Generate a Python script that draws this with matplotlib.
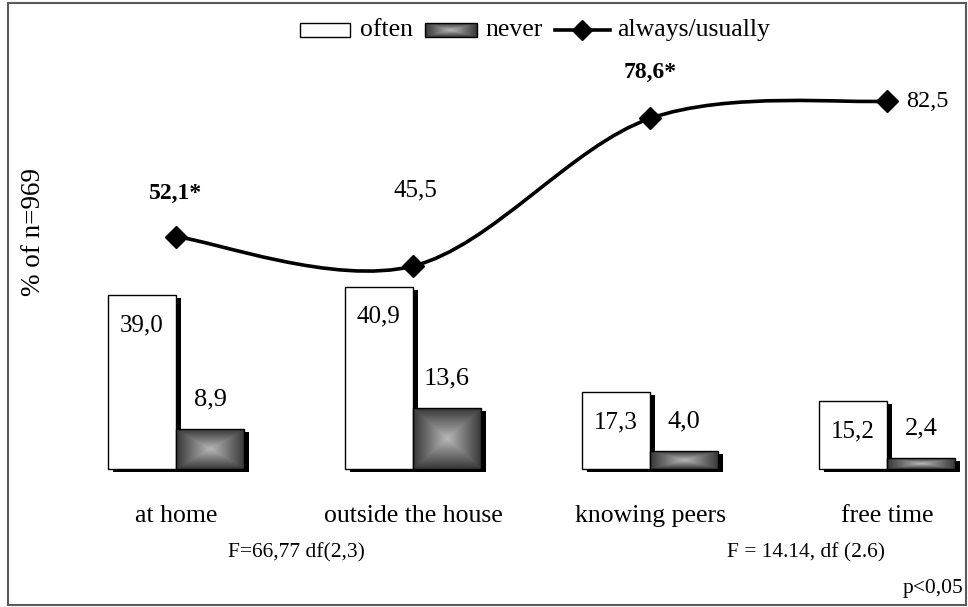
import numpy as np
import matplotlib
matplotlib.use("Agg")
import matplotlib.pyplot as plt
from matplotlib.patches import Rectangle
from matplotlib.path import Path
from matplotlib.patches import PathPatch
from matplotlib.lines import Line2D

# ---------------- data ----------------
categories = ["at home", "outside the house", "knowing peers", "free time"]
often = [39.0, 40.9, 17.3, 15.2]
never = [8.9, 13.6, 4.0, 2.4]
always_usually = [52.1, 45.5, 78.6, 82.5]
often_labels = ["39,0", "40,9", "17,3", "15,2"]
never_labels = ["8,9", "13,6", "4,0", "2,4"]
always_labels = ["52,1*", "45,5", "78,6*", "82,5"]
stats_texts = ["F=66,77 df(2,3)", "F = 14.14, df (2.6)"]
legend_labels = ["often", "never", "always/usually"]
ylabel = "% of n=969"
pnote = "p<0,05"

FONT = "Liberation Serif"
W, H = 968, 607
fig = plt.figure(figsize=(W / 100, H / 100), dpi=100)
fig.patch.set_facecolor("white")

# pixel geometry of the plotting frame
x0px, dxpx = 176.0, 237.0          # first category centre, spacing (px)
base_px, ppu = 469.0, 4.46         # baseline from top (px), px per unit
ax = fig.add_axes([0, 0, 1, 1])
ax.set_xlim(-x0px / dxpx, (W - x0px) / dxpx)
ax.set_ylim(-(H - base_px) / ppu, base_px / ppu)
ax.axis("off")

bw = 0.288
sdx = 5 / dxpx
sdy = 3 / ppu
xs = np.arange(len(categories))

# gradient image for "never" bars (rectangular, light centre)
n = 60
u = np.linspace(-1, 1, n)
UU, VV = np.meshgrid(u, u)
grad = 0.72 - 0.50 * np.maximum(np.abs(UU), np.abs(VV))

for i, (o, nv) in enumerate(zip(often, never)):
    # often shadow + bar
    ax.add_patch(Rectangle((i - bw + sdx, -sdy), bw, o, facecolor="black",
                           edgecolor="none", zorder=1))
    ax.add_patch(Rectangle((i - bw, 0), bw, o, facecolor="white",
                           edgecolor="black", lw=1.0, zorder=2))
    # never shadow + bar
    ax.add_patch(Rectangle((i + sdx, -sdy), bw, nv, facecolor="black",
                           edgecolor="none", zorder=3))
    ax.imshow(grad, cmap="gray", vmin=0, vmax=1, extent=[i, i + bw, 0, nv],
              aspect="auto", interpolation="bilinear", zorder=4)
    ax.add_patch(Rectangle((i, 0), bw, nv, facecolor="none",
                           edgecolor="black", lw=1.0, zorder=5))
    ax.text(i - bw / 2, o - 6.8, often_labels[i], ha="center", va="center",
            fontsize=18, family=FONT, zorder=6)
    ax.text(i + bw / 2, nv + 6.7, never_labels[i], ha="center", va="center",
            fontsize=19, family=FONT, zorder=6)

# smoothed line (Bezier like spreadsheet smoothing)
pts = np.column_stack([xs, always_usually]).astype(float)
ext = np.vstack([pts[0], pts, pts[-1]])
verts = [tuple(pts[0])]
codes = [Path.MOVETO]
t = 1 / 6
for k in range(len(pts) - 1):
    p0, p1, p2, p3 = ext[k], ext[k + 1], ext[k + 2], ext[k + 3]
    c1 = p1 + (p2 - p0) * t
    c2 = p2 - (p3 - p1) * t
    verts += [tuple(c1), tuple(c2), tuple(p2)]
    codes += [Path.CURVE4] * 3
ax.add_patch(PathPatch(Path(verts, codes), facecolor="none", edgecolor="black",
                       lw=2.6, zorder=7, capstyle="round"))
ax.plot(xs, always_usually, linestyle="none", marker="D", ms=11,
        color="black", zorder=8)

ax.text(0, always_usually[0] + 9.6, always_labels[0], ha="center", va="center",
        fontsize=17, family=FONT, fontweight="bold")
ax.text(1 + 0.01, always_usually[1] + 17.0, always_labels[1], ha="center",
        va="center", fontsize=18, family=FONT)
ax.text(2, always_usually[2] + 10.2, always_labels[2], ha="center", va="center",
        fontsize=17, family=FONT, fontweight="bold")
ax.text(3 + 0.08, always_usually[3], always_labels[3], ha="left", va="center",
        fontsize=17.5, family=FONT)

# category labels
for i, c in enumerate(categories):
    ax.text(i, -10.5, c, ha="center", va="center", fontsize=18.5, family=FONT)

# stats texts (pixel positions)
def px(x, y):
    return (x / W, 1 - y / H)

fig.text(*px(296, 553), stats_texts[0], ha="center", va="center",
         fontsize=15.5, family=FONT)
fig.text(*px(806, 553), stats_texts[1], ha="center", va="center",
         fontsize=15.5, family=FONT)
fig.text(*px(963, 588), pnote, ha="right", va="center", fontsize=15.5,
         family=FONT)
fig.text(*px(33, 232), ylabel, ha="center", va="center", rotation=90,
         fontsize=19.5, family=FONT)

# legend (manual)
lax = fig.add_axes([0, 0, 1, 1])
lax.set_xlim(0, W)
lax.set_ylim(H, 0)
lax.axis("off")
lax.patch.set_alpha(0)
lax.add_patch(Rectangle((300, 23), 50, 14, facecolor="white",
                        edgecolor="black", lw=1.0))
lax.text(360, 30, legend_labels[0], ha="left", va="center", fontsize=18.5,
         family=FONT)
lax.imshow(grad, cmap="gray", vmin=0, vmax=1, extent=[425, 477, 37, 23],
           aspect="auto", interpolation="bilinear")
lax.add_patch(Rectangle((425, 23), 52, 14, facecolor="none",
                        edgecolor="black", lw=1.0))
lax.text(485, 30, legend_labels[1], ha="left", va="center", fontsize=18.5,
         family=FONT)
lax.add_line(Line2D([555, 610], [30, 30], color="black", lw=2.6))
lax.plot([582], [30], marker="D", ms=10, color="black", linestyle="none")
lax.text(617, 30, legend_labels[2], ha="left", va="center", fontsize=18.5,
         family=FONT)
lax.set_xlim(0, W)
lax.set_ylim(H, 0)

# border
lax.add_patch(Rectangle((8, 3), W - 10, H - 5, facecolor="none",
                        edgecolor="#5a5a5a", lw=1.5))

fig.savefig("out.png", dpi=100, facecolor="white")
